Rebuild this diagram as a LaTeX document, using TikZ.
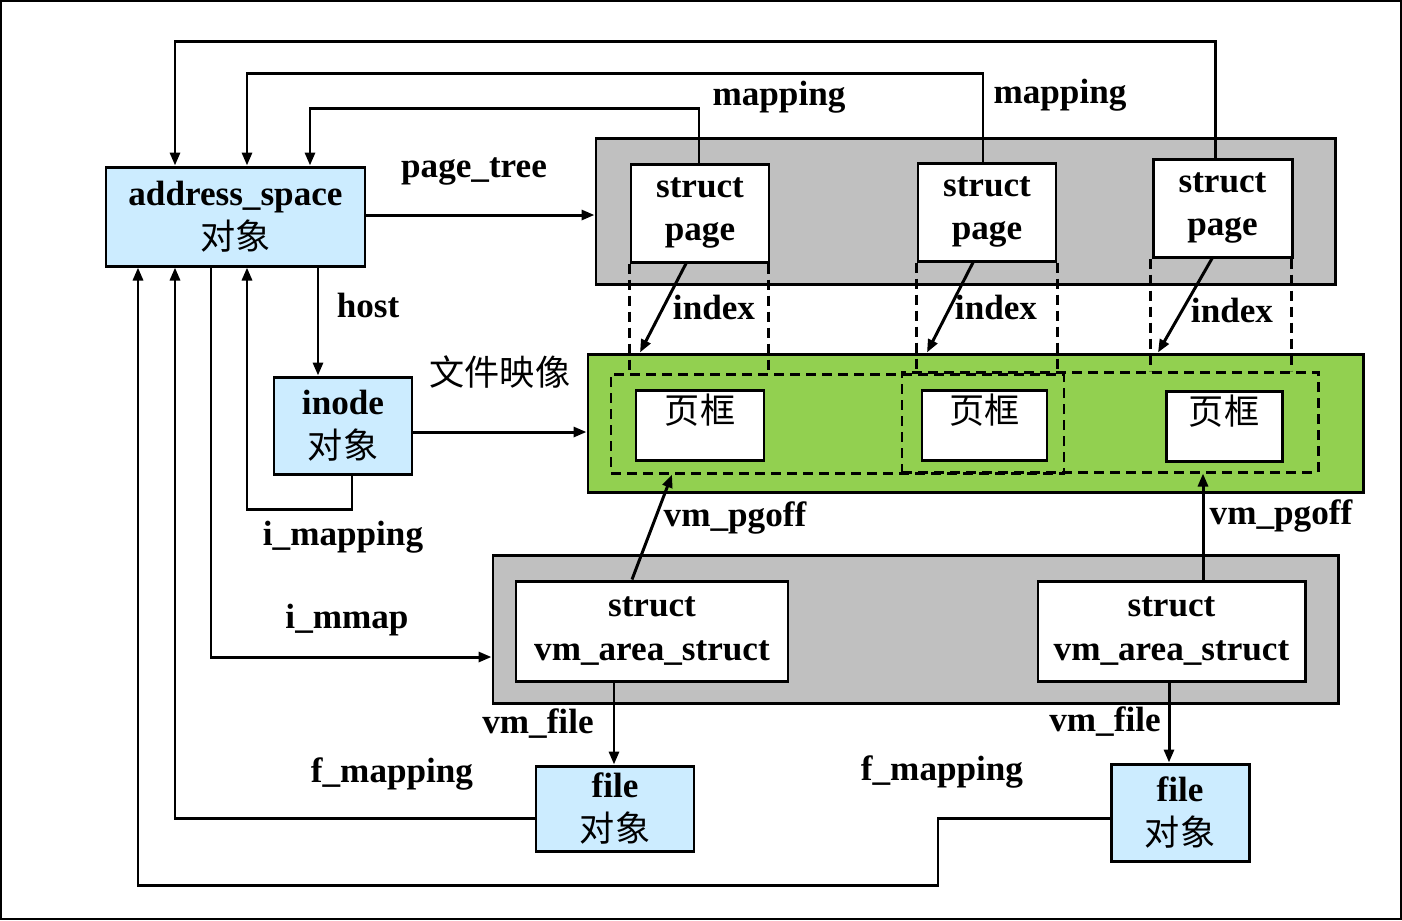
\documentclass[tikz,border=0pt]{standalone}
\usepackage{fontspec}
\setmainfont{Liberation Serif}
\newfontfamily\cjk{Noto Sans CJK SC}
\usepackage{xcolor}
\usepackage{tikz}
\usetikzlibrary{arrows.meta}
\definecolor{objblue}{HTML}{CCECFF}
\definecolor{pagegray}{HTML}{C0C0C0}
\definecolor{mapgreen}{HTML}{92D050}
\newcommand{\zh}[1]{{\mdseries\cjk #1}}

\begin{document}
\begin{tikzpicture}[y=-1cm, line width=0.85pt,
  >={Triangle[length=1.3mm,width=1mm]},
  every node/.style={font=\fontsize{10}{12.5}\selectfont\bfseries,inner sep=0pt},
  box/.style={draw,rectangle,align=center},
  obj/.style={box,fill=objblue},
  wbox/.style={box,fill=white},
  frame/.style={box,fill=white,text height=0.33cm,text depth=0.37cm},
  group/.style={box,draw},
  dashline/.style={dash pattern=on 0.1cm off 0.06cm}]
  \useasboundingbox (0,0) rectangle (14.02,9.2);
  \draw[line width=0.6pt] (0.01,0.01) rectangle (14.01,9.19);

  % objects
  \node[obj,minimum width=2.59cm,minimum height=0.99cm] (as) at (2.355,2.165)
    {address\_space\\\zh{对象}};
  \node[obj,minimum width=1.38cm,minimum height=0.97cm] (inode) at (3.43,4.255)
    {inode\\\zh{对象}};
  \node[obj,minimum width=1.58cm,minimum height=0.85cm] (file1) at (6.15,8.085)
    {file\\\zh{对象}};
  \node[obj,minimum width=1.38cm,minimum height=0.97cm] (file2) at (11.80,8.125)
    {file\\\zh{对象}};

  % struct page
  \node[group,fill=pagegray,minimum width=7.39cm,minimum height=1.46cm] (pg) at (9.655,2.11) {};
  \node[wbox,minimum width=1.38cm,minimum height=0.98cm] (sp1) at (7.00,2.13) {struct\\page};
  \node[wbox,minimum width=1.38cm,minimum height=0.98cm] (sp2) at (9.87,2.12) {struct\\page};
  \node[wbox,minimum width=1.39cm,minimum height=0.98cm] (sp3) at (12.225,2.08) {struct\\page};

  % file image
  \node[group,fill=mapgreen,minimum width=7.75cm,minimum height=1.38cm] (gb) at (9.755,4.23) {};
  \node[draw,dashline,minimum width=4.53cm,minimum height=0.99cm] (pfA) at (8.375,4.235) {};
  \node[draw,dashline,minimum width=4.16cm,minimum height=1.00cm] (pfB) at (11.10,4.22) {};
  \node[frame,minimum width=1.28cm,minimum height=0.70cm] (pf1) at (7.00,4.25) {\zh{页框}};
  \node[frame,minimum width=1.25cm,minimum height=0.70cm] (pf2) at (9.845,4.25) {\zh{页框}};
  \node[frame,minimum width=1.16cm,minimum height=0.68cm] (pf3) at (12.24,4.26) {\zh{页框}};

  % vm_area_struct
  \node[group,fill=pagegray,minimum width=8.45cm,minimum height=1.48cm] (vb) at (9.155,6.29) {};
  \node[wbox,minimum width=2.72cm,minimum height=1.00cm] (vma1) at (6.52,6.31)
    {struct\\vm\_area\_struct};
  \node[wbox,minimum width=2.67cm,minimum height=1.00cm] (vma2) at (11.715,6.31)
    {struct\\vm\_area\_struct};

  % mapping back to address_space
  \coordinate (m3) at (1.75,0.41);
  \coordinate (m2) at (2.47,0.73);
  \coordinate (m1) at (3.10,1.08);
  \draw[->] (sp3.north -| 12.15,0) |- (m3) -- (m3 |- as.north);
  \draw[->] (sp2.north -| 9.83,0) |- (m2) -- (m2 |- as.north);
  \draw[->] (sp1.north -| 6.99,0) |- (m1) -- (m1 |- as.north);
  \draw[->] (as.east |- 0,2.15) -- (pg.west |- 0,2.15);

  % index
  \draw[dashline] (sp1.south west) -- (sp1.south west |- pfA.north);
  \draw[dashline] ([xshift=-0.02cm]sp1.south east) -- ([xshift=-0.02cm]sp1.south east |- pfA.north);
  \draw[dashline] (sp2.south west) -- (sp2.south west |- pfB.north);
  \draw[dashline] (sp2.south east) -- (sp2.south east |- pfB.north);
  \draw[dashline] ([xshift=-0.01cm]sp3.south west) -- ([xshift=-0.01cm]sp3.south west |- pfB.north);
  \draw[dashline] ([xshift=-0.02cm]sp3.south east) -- ([xshift=-0.02cm]sp3.south east |- pfB.north);
  \draw[->] (sp1.south -| 6.86,0) -- (gb.north -| 6.40,0);
  \draw[->] (sp2.south -| 9.73,0) -- (gb.north -| 9.27,0);
  \draw[->] (sp3.south -| 12.12,0) -- (gb.north -| 11.58,0);

  % inode links
  \coordinate (im) at (2.47,5.09);
  \draw[->] (as.south -| 3.18,0) -- (inode.north -| 3.18,0);
  \draw[->] (inode.east |- 0,4.32) -- (gb.west |- 0,4.32);
  \draw[->] (inode.south -| 3.52,0) |- (im) -- (im |- as.south);
  \draw[->] (as.south -| 2.11,0) |- (vb.west |- 0,6.57);

  % vm_pgoff and vm_file
  \draw[->] (vma1.north -| 6.32,0) -- (pfA.south -| 6.72,0);
  \draw[->] (vma2.north -| 12.03,0) -- (pfB.south -| 12.03,0);
  \draw[->] (vma1.south -| 6.14,0) -- (file1.north -| 6.14,0);
  \draw[->] (vma2.south -| 11.69,0) -- (file2.north -| 11.69,0);

  % f_mapping
  \coordinate (fm) at (9.38,8.85);
  \draw[->] (file1.west |- 0,8.18) -| (as.south -| 1.75,0);
  \draw[->] (file2.west |- 0,8.18) -| (fm) -| (as.south -| 1.38,0);

  % labels
  \node (lm1) at (7.79,0.97) {mapping};
  \node (lm2) at (10.60,0.95) {mapping};
  \node (lpt) at (4.74,1.71) {page\_tree};
  \node (li1) at (7.14,3.07) {index};
  \node (li2) at (9.96,3.07) {index};
  \node (li3) at (12.32,3.10) {index};
  \node (lwj) at (5.00,3.72) {\zh{文件映像}};
  \node (lho) at (3.68,3.05) {host};
  \node (lim) at (3.43,5.37) {i\_mapping};
  \node (lmm) at (3.47,6.20) {i\_mmap};
  \node (lpg1) at (7.35,5.18) {vm\_pgoff};
  \node (lpg2) at (12.81,5.16) {vm\_pgoff};
  \node (lvf1) at (5.38,7.24) {vm\_file};
  \node (lvf2) at (11.05,7.22) {vm\_file};
  \node (lfm1) at (3.92,7.74) {f\_mapping};
  \node (lfm2) at (9.42,7.72) {f\_mapping};
\end{tikzpicture}
\end{document}
